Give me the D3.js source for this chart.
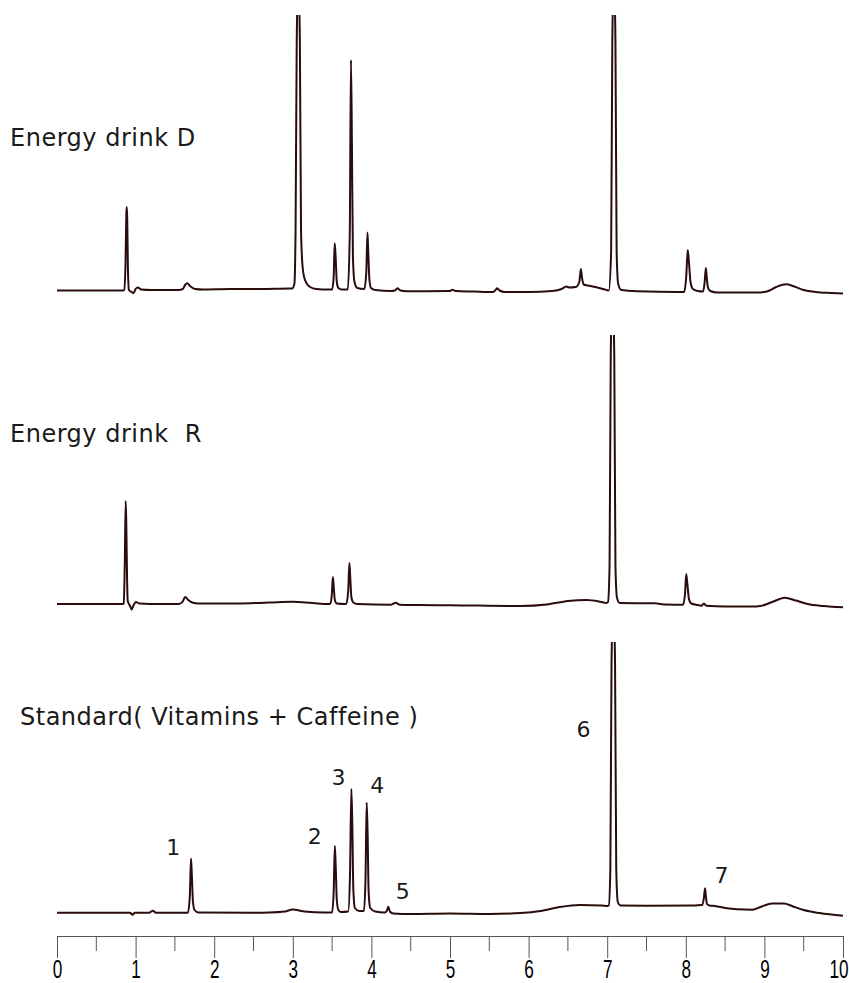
<!DOCTYPE html>
<html>
<head>
<meta charset="utf-8">
<title>Energy drink chromatograms</title>
<script src="https://cdn.jsdelivr.net/npm/d3@7"></script>
<style>
  body { margin: 0; background: #fff; }
  .title { font-family: "DejaVu Sans", sans-serif; font-size: 24px; letter-spacing: 0.5px; fill: #1a1a1a; }
  .peak-label { font-family: "DejaVu Sans", sans-serif; font-size: 22px; fill: #1a1a1a; }
  .axis text { font-family: "Liberation Sans", sans-serif; font-size: 26px; fill: #000; }
</style>
</head>
<body>
<div id="chart"></div>
<script>
// retention time (min), signal above baseline
var drinkD = [
  [0.00, 1.5], [0.50, 1.5], [0.84, 1.5],
  [0.855, 2], [0.872, 30], [0.882, 78], [0.887, 85], [0.893, 75], [0.902, 25], [0.915, 2],
  [0.95, 0], [0.975, -1], [1.00, 3], [1.03, 4.5], [1.07, 2.5], [1.20, 2],
  [1.55, 2], [1.60, 3], [1.63, 7], [1.655, 8.7], [1.70, 5.5], [1.76, 3], [1.85, 2.5],
  [2.20, 3], [2.60, 3], [2.95, 3.5], [2.99, 3.5],
  [3.02, 8], [3.035, 60], [3.05, 250], [3.07, 320], [3.09, 250], [3.105, 60], [3.125, 25],
  [3.155, 12], [3.22, 5], [3.30, 3], [3.45, 2.5],
  [3.50, 2.5], [3.52, 15], [3.533, 48.7], [3.545, 35], [3.56, 10], [3.58, 4], [3.62, 2.5],
  [3.70, 2.5], [3.725, 60], [3.74, 232], [3.752, 150], [3.765, 35], [3.785, 10], [3.82, 4],
  [3.91, 3], [3.935, 20], [3.95, 59.5], [3.96, 40], [3.975, 12], [3.995, 4], [4.05, 2],
  [4.25, 1], [4.30, 1.5], [4.33, 3.7], [4.37, 1.5], [4.45, 0.8],
  [4.70, 0.8], [5.00, 1], [5.03, 2.2], [5.07, 1], [5.30, 0.5],
  [5.55, 0], [5.58, 2], [5.60, 3.7], [5.63, 1.5], [5.70, 0],
  [6.00, 0], [6.30, 1], [6.42, 3], [6.48, 5.5], [6.52, 4.5], [6.60, 5],
  [6.645, 10], [6.665, 23], [6.68, 14], [6.70, 7.5], [6.75, 6.5], [6.85, 5], [6.95, 3], [7.02, 1.5],
  [7.05, 40], [7.065, 250], [7.085, 320], [7.105, 250], [7.12, 40], [7.14, 8], [7.18, 2],
  [7.40, 0.8], [7.90, 0],
  [7.98, 0], [8.005, 15], [8.025, 42], [8.04, 30], [8.06, 10], [8.09, 3], [8.15, 1],
  [8.22, 0.5], [8.24, 10], [8.255, 24], [8.265, 16], [8.28, 5], [8.31, 1], [8.40, -0.5],
  [8.60, -0.5], [8.90, -0.5], [9.03, 0.5], [9.15, 5], [9.28, 7.7], [9.38, 5.5], [9.50, 2],
  [9.65, 0], [9.85, -1], [10.00, -1.5]
];

var drinkR = [
  [0.00, 2], [0.50, 2], [0.84, 2],
  [0.848, 2.5], [0.862, 40], [0.874, 105], [0.882, 80], [0.892, 25], [0.90, 5],
  [0.93, 0], [0.95, -3.5], [0.975, 1], [1.005, 4], [1.05, 2.5], [1.30, 2],
  [1.55, 2], [1.60, 4.5], [1.63, 9], [1.67, 6], [1.72, 3.5], [1.80, 2.5],
  [2.30, 2.5], [2.70, 3.5], [3.00, 4.3], [3.25, 3], [3.45, 2],
  [3.475, 2], [3.495, 10], [3.51, 29], [3.52, 20], [3.535, 6], [3.56, 2.5], [3.66, 2],
  [3.68, 2], [3.705, 15], [3.72, 43], [3.73, 30], [3.745, 9], [3.77, 3.5], [3.82, 2],
  [4.25, 1.3], [4.31, 3.3], [4.36, 1.3], [4.60, 1],
  [5.00, 0.8], [5.90, 0], [6.23, 1.5], [6.50, 5], [6.74, 6], [6.91, 4.3], [6.99, 3],
  [7.01, 4], [7.03, 40], [7.045, 250], [7.067, 320], [7.09, 250], [7.105, 40], [7.125, 8], [7.16, 3],
  [7.60, 2.7], [7.75, 1.5],
  [7.965, 1.2], [7.99, 12], [8.005, 32], [8.02, 22], [8.04, 7], [8.07, 2.5], [8.15, 1],
  [8.20, 0.3], [8.23, 2.5], [8.26, 0.3], [8.50, -0.5], [8.90, -0.5],
  [8.95, 0], [9.10, 4], [9.26, 8.3], [9.40, 5.5], [9.55, 2], [9.75, 0], [10.00, -1.3]
];

var standard = [
  [0.00, 1.3], [0.90, 1.3], [0.93, 1.2], [0.96, -0.7], [0.99, 1.2],
  [1.17, 1.3], [1.22, 3.3], [1.26, 1.3],
  [1.665, 1.3], [1.69, 18], [1.705, 55.5], [1.715, 40], [1.73, 12], [1.75, 4], [1.80, 1.5],
  [2.50, 1.3], [2.70, 1.5], [2.90, 2.5], [3.00, 4.5], [3.05, 4], [3.15, 2.5], [3.40, 1.5],
  [3.50, 1.5], [3.52, 22], [3.535, 68], [3.545, 50], [3.56, 14], [3.58, 4], [3.61, 2],
  [3.705, 2.5], [3.728, 40], [3.745, 125], [3.757, 90], [3.77, 25], [3.79, 6], [3.845, 3],
  [3.905, 3], [3.925, 35], [3.94, 111.5], [3.952, 80], [3.965, 22], [3.985, 6], [4.05, 2.5],
  [4.17, 1.5], [4.195, 3], [4.215, 7.3], [4.235, 2.5], [4.28, 0.5],
  [4.50, 0], [5.00, 0.5], [5.50, 0],
  [5.90, 1], [6.15, 3], [6.40, 7], [6.65, 9], [6.93, 8.5], [7.00, 8],
  [7.02, 8.5], [7.04, 45], [7.055, 250], [7.078, 320], [7.10, 250], [7.115, 45], [7.135, 12], [7.17, 8.5],
  [7.50, 8.3], [8.10, 8.5], [8.20, 9],
  [8.21, 9], [8.23, 16], [8.245, 25.7], [8.255, 18], [8.27, 10], [8.30, 8.5],
  [8.37, 8], [8.50, 6], [8.65, 4.7], [8.85, 4.3], [8.95, 7], [9.10, 10.5], [9.25, 10.5],
  [9.35, 8], [9.50, 4], [9.70, 1], [10.00, -1.7]
];

var traceNames = ["Energy drink D", "Energy drink  R", "Standard( Vitamins + Caffeine )"];

// peak numbers in the standard: [label, time, signal]
var peakLabels = [
  ["1", 1.48, 59], ["2", 3.28, 70], ["3", 3.58, 129], ["4", 4.075, 120.7],
  ["5", 4.40, 14.7], ["6", 6.70, 177], ["7", 8.455, 30.7]
];

var majorTicks = [0, 1, 2, 3, 4, 5, 6, 7, 8, 9, 10];
var minorTicks = [0.5, 1.5, 2.5, 3.5, 4.5, 5.5, 6.5, 7.5, 8.5, 9.5];

var width = 849, height = 983;

var svg = d3.select("#chart")
  .append("svg")
  .attr("width", width)
  .attr("height", height);

var x = d3.scaleLinear()
  .domain([0, 10])
  .range([57, 843]);

// panels: baseline y and top of the visible window
var panels = [
  { data: drinkD, base: 292, top: 15, title: traceNames[0], tx: 10, ty: 146 },
  { data: drinkR, base: 606, top: 335, title: traceNames[1], tx: 10, ty: 442 },
  { data: standard, base: 914, top: 642, title: traceNames[2], tx: 20, ty: 725 }
];

var defs = svg.append("defs");

panels.forEach(function (p, i) {
  var y = d3.scaleLinear()
    .domain([0, 100])
    .range([p.base, p.base - 100]);

  defs.append("clipPath")
    .attr("id", "clip" + i)
    .append("rect")
    .attr("x", 0)
    .attr("y", p.top)
    .attr("width", width)
    .attr("height", height);

  var line = d3.line()
    .x(function (d) { return x(d[0]); })
    .y(function (d) { return y(d[1]); })
    .curve(d3.curveMonotoneX);

  svg.append("path")
    .datum(p.data)
    .attr("clip-path", "url(#clip" + i + ")")
    .attr("fill", "none")
    .attr("stroke", "#2a0c0c")
    .attr("stroke-width", 2)
    .attr("stroke-linejoin", "round")
    .attr("d", line);

  svg.append("text")
    .attr("class", "title")
    .attr("x", p.tx)
    .attr("y", p.ty)
    .style("white-space", "pre")
    .text(p.title);

  if (i == 2) {
    svg.selectAll(".peak-label")
      .data(peakLabels)
      .enter()
      .append("text")
      .attr("class", "peak-label")
      .attr("text-anchor", "middle")
      .attr("x", function (d) { return x(d[1]); })
      .attr("y", function (d) { return y(d[2]); })
      .text(function (d) { return d[0]; });
  }
});

// time axis
var axis = svg.append("g")
  .attr("class", "axis")
  .attr("transform", "translate(0,936)")
  .call(d3.axisBottom(x).tickValues(majorTicks).tickSize(22).tickSizeOuter(0).tickFormat(d3.format("d")));

axis.select(".domain").attr("stroke", "#555");
axis.selectAll(".tick line").attr("stroke", "#555");
// condensed digits
axis.selectAll(".tick text")
  .attr("y", 0)
  .attr("dy", 0)
  .attr("transform", "translate(0,42) scale(0.66,1)");

// keep the last label inside the picture
axis.selectAll(".tick text")
  .filter(function (d) { return d == 10; })
  .attr("text-anchor", "end")
  .attr("x", 5 / 0.66);

axis.selectAll(".minor")
  .data(minorTicks)
  .enter()
  .append("line")
  .attr("class", "minor")
  .attr("x1", function (d) { return x(d); })
  .attr("x2", function (d) { return x(d); })
  .attr("y1", 0)
  .attr("y2", 15)
  .attr("stroke", "#555");
</script>
</body>
</html>
